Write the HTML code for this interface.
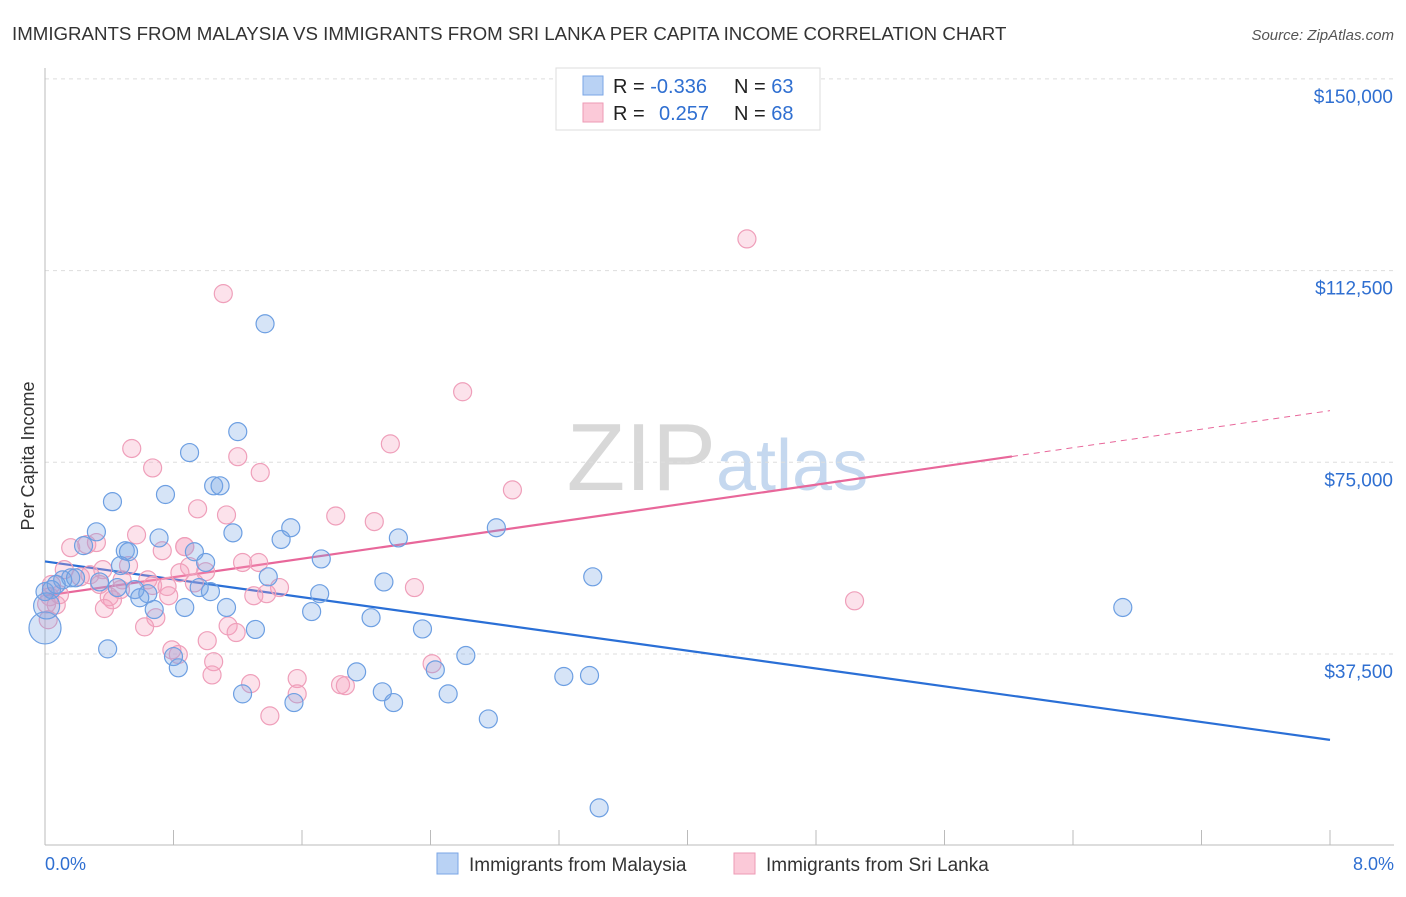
<!DOCTYPE html>
<html><head><meta charset="utf-8"><style>
body{margin:0;background:#fff;font-family:"Liberation Sans",sans-serif;}
svg text{font-family:"Liberation Sans",sans-serif;}
</style></head><body>
<svg id="chart" width="1406" height="892" xmlns="http://www.w3.org/2000/svg">
<text x="12" y="40" font-size="18.7" fill="#333">IMMIGRANTS FROM MALAYSIA VS IMMIGRANTS FROM SRI LANKA PER CAPITA INCOME CORRELATION CHART</text>
<text x="1394" y="40" font-size="15" fill="#555" text-anchor="end" font-style="italic">Source: ZipAtlas.com</text>
<text x="716" y="490" font-size="96" fill="#d8d8d8" text-anchor="end" font-family="Liberation Serif">ZIP</text>
<text x="716" y="490" font-size="72" fill="#c5d8ef">atlas</text>
<g id="grid"></g>
<g id="axes"></g>
<g id="lines"></g>
<g id="pts"></g>
<text transform="translate(34,456) rotate(-90)" font-size="18" fill="#333" text-anchor="middle">Per Capita Income</text>
<g>
<rect x="556" y="68" width="264" height="62" fill="#fff" stroke="#ddd"/>
<rect x="583" y="76" width="20" height="19" fill="#b9d2f4" stroke="#7aa6e6"/>
<rect x="583" y="103" width="20" height="19" fill="#fbc9d8" stroke="#ee9ab5"/>
<text x="613" y="93" font-size="20" fill="#222">R = <tspan fill="#2f6fd1">-0.336</tspan></text>
<text x="734" y="93" font-size="20" fill="#222">N = <tspan fill="#2f6fd1">63</tspan></text>
<text x="613" y="120" font-size="20" fill="#222">R = <tspan fill="#2f6fd1" x="659">0.257</tspan></text>
<text x="734" y="120" font-size="20" fill="#222">N = <tspan fill="#2f6fd1">68</tspan></text>
</g>
<g>
<rect x="437" y="853" width="21" height="21" fill="#b9d2f4" stroke="#7aa6e6"/>
<text x="469" y="871" font-size="19" fill="#333">Immigrants from Malaysia</text>
<rect x="734" y="853" width="21" height="21" fill="#fbc9d8" stroke="#ee9ab5"/>
<text x="766" y="871" font-size="19" fill="#333">Immigrants from Sri Lanka</text>
</g>
<text x="45" y="870" font-size="18" fill="#2f6fd1">0.0%</text>
<text x="1394" y="870" font-size="18" fill="#2f6fd1" text-anchor="end">8.0%</text>
</svg>
<script>
const yTicks=[37500,75000,112500,150000];
const yTickLabels=["$37,500","$75,000","$112,500","$150,000"];
const xTicks=[0,0.8,1.6,2.4,3.2,4,4.8,5.6,6.4,7.2,8];
const blueX=[1.37,1.20,0.90,0.75,1.05,1.09,0.42,0.32,0.71,1.17,1.53,1.47,2.81,2.20,0.50,0.52,0.93,0.24,1.72,1.00,1.39,2.11,3.41,0.47,0.16,0.11,0.34,0.45,0.56,0.64,0.59,0.96,1.03,1.71,0.00,0.04,0.07,0.87,0.68,1.13,1.66,2.03,1.31,2.35,6.71,0.39,0.80,0.83,2.62,1.94,2.43,1.23,1.55,2.10,2.17,2.51,3.23,3.39,2.76,3.45,0.00,0.01,0.19];
const blueY=[102.1,81.0,76.9,68.7,70.4,70.4,67.3,61.4,60.2,61.2,62.2,59.9,62.2,60.2,57.7,57.5,57.5,58.7,56.1,55.4,52.6,51.6,52.6,54.8,52.4,52.0,51.6,50.5,50.1,49.3,48.5,50.5,49.7,49.3,49.7,50.1,51.1,46.6,46.2,46.6,45.8,44.6,42.3,42.4,46.6,38.5,37.0,34.8,37.2,34.0,34.4,29.7,28.0,30.1,28.0,29.7,33.1,33.3,24.8,7.4,42.6,46.9,52.4];
const blueR=[9,9,9,9,9,9,9,9,9,9,9,9,9,9,9,9,9,9,9,9,9,9,9,9,9,9,9,9,9,9,9,9,9,9,9,9,9,9,9,9,9,9,9,9,9,9,9,9,9,9,9,9,9,9,9,9,9,9,9,9,16,13,9];
const pinkX=[4.37,1.11,2.60,2.15,0.54,0.67,1.20,1.34,2.91,1.13,0.95,1.81,2.05,0.57,0.32,0.16,0.26,0.73,0.87,1.23,1.33,0.90,1.00,0.84,0.36,0.52,0.28,0.12,0.22,0.64,0.67,0.48,1.46,1.38,1.30,2.30,5.04,0.40,0.77,0.42,0.37,0.69,0.62,1.14,1.19,1.01,0.79,0.83,1.05,1.04,2.41,1.57,1.28,1.57,1.84,1.87,1.40,0.03,0.01,0.07,0.02,0.04,0.34,0.93,0.47,0.76,0.09,0.87];
const pinkY=[118.7,108.0,88.8,78.6,77.7,73.9,76.1,73.0,69.6,64.7,65.9,64.5,63.4,60.8,59.3,58.3,58.9,57.7,58.5,55.4,55.4,54.6,53.6,53.4,54.0,54.8,53.0,54.0,52.6,52.0,50.9,52.0,50.5,49.3,48.9,50.5,47.9,48.7,48.9,48.1,46.4,44.6,42.8,43.0,41.7,40.1,38.3,37.4,36.0,33.4,35.6,32.7,31.7,29.7,31.5,31.3,25.4,48.7,47.3,47.1,44.2,51.1,51.1,51.4,50.1,50.7,49.1,58.5];
const blueTrend=[55.6,20.7];
const pinkTrend=[48.9,85.1];
const pinkSolidEnd=6.02;
const NS="http://www.w3.org/2000/svg";
const xs=v=>45+v/8*1285;
const ys=v=>845.7-v/37500*191.7;
const yk=v=>ys(v*1000);
function mk(tag,attrs,parent){const e=document.createElementNS(NS,tag);for(const k in attrs)e.setAttribute(k,attrs[k]);parent.appendChild(e);return e;}
const gridG=document.getElementById('grid'),axesG=document.getElementById('axes'),linesG=document.getElementById('lines'),ptsG=document.getElementById('pts');
yTicks.forEach((t,i)=>{
  const l=mk('line',{x1:45,x2:1394,y1:ys(t),y2:ys(t),stroke:'#ddd','stroke-dasharray':'4,4'},gridG);
  
  
  const tx=mk('text',{x:1393,y:ys(t)+24,'font-size':19,fill:'#2f6fd1','text-anchor':'end'},axesG);
  tx.textContent=yTickLabels[i];
  
  
});
const yAxisLine=mk('line',{x1:45,x2:45,y1:68,y2:845,stroke:'#bbb'},axesG);


const xAxisLine=mk('line',{x1:45,x2:1394,y1:845,y2:845,stroke:'#bbb'},axesG);


xTicks.forEach(t=>{
  const l=mk('line',{x1:xs(t),x2:xs(t),y1:830,y2:845,stroke:'#bbb'},axesG);
  
  
});
function dots(X,Y,R,fill,stroke,name){
  X.forEach((x,i)=>{
    const c=mk('circle',{cx:xs(x),cy:yk(Y[i]),r:R?R[i]:9,fill:fill,stroke:stroke,'stroke-width':1.2},ptsG);
    
    
  });
}
dots(pinkX,pinkY,null,'rgba(244,160,188,0.3)','#ef9fba','srilanka-point');
dots(blueX,blueY,blueR,'rgba(120,165,230,0.3)','#6d9fe2','malaysia-point');
const bl=mk('line',{x1:xs(0),y1:yk(blueTrend[0]),x2:xs(8),y2:yk(blueTrend[1]),stroke:'#2a6fd6','stroke-width':2.2},linesG);


const pAt=x=>pinkTrend[0]+(pinkTrend[1]-pinkTrend[0])*x/8;
const pl=mk('line',{x1:xs(0),y1:yk(pinkTrend[0]),x2:xs(pinkSolidEnd),y2:yk(pAt(pinkSolidEnd)),stroke:'#e8679a','stroke-width':2.2},linesG);


const pd=mk('line',{x1:xs(pinkSolidEnd),y1:yk(pAt(pinkSolidEnd)),x2:xs(8),y2:yk(pinkTrend[1]),stroke:'#e8679a','stroke-width':1,'stroke-dasharray':'6,5'},linesG);


</script>
</body></html>
